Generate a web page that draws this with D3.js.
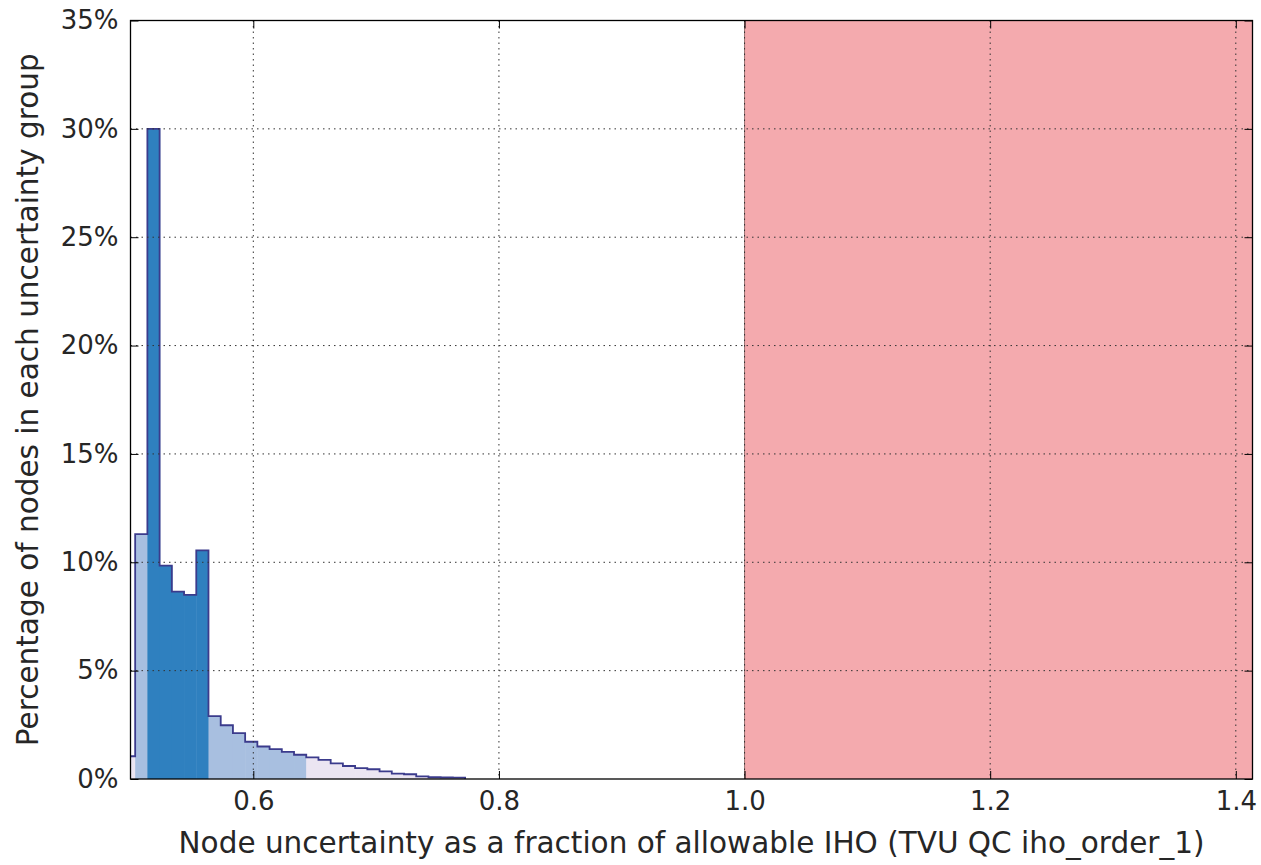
<!DOCTYPE html>
<html>
<head>
<meta charset="utf-8">
<script src="https://cdn.jsdelivr.net/npm/d3@7"></script>
<style>
  body { margin: 0; background: #fff; }
  text { font-family: "DejaVu Sans", sans-serif; fill: #262626; }
</style>
</head>
<body>
<svg id="chart" width="1261" height="865"></svg>
<script>
// histogram bins (fraction of allowable IHO), percentage per bin
const binStart = 0.49385
const binWidth = 0.00995
const binPercent = [1.05, 11.3, 30.0, 9.85, 8.65, 8.5, 10.55, 2.9, 2.48, 2.12, 1.72, 1.5, 1.38, 1.25,
  1.12, 1.0, 0.88, 0.72, 0.6, 0.5, 0.45, 0.35, 0.25, 0.22, 0.12, 0.08, 0.07, 0.06]
// 0 = outer tail, 1 = middle band, 2 = core band
const binGroup = [0, 1, 2, 2, 2, 2, 2, 1, 1, 1, 1, 1, 1, 1,
  1, 0, 0, 0, 0, 0, 0, 0, 0, 0, 0, 0, 0, 0]
const groupColors = ["#ebe5f2", "#a8bfe0", "#2f80bf"]

const failStart = 1.0
const xTicks = [0.6, 0.8, 1.0, 1.2, 1.4]
const yTicks = [0, 5, 10, 15, 20, 25, 30, 35]
const xDomain = [0.5, 1.4136]
const yDomain = [0, 35]

const xLabel = "Node uncertainty as a fraction of allowable IHO (TVU QC iho_order_1)"
const yLabel = "Percentage of nodes in each uncertainty group"

const mLeft = 130.5, mRight = 1252.5, mTop = 20.5, mBottom = 779
const tickLen = 8

const svg = d3.select("#chart")

const x = d3.scaleLinear().domain(xDomain).range([mLeft, mRight])
const y = d3.scaleLinear().domain(yDomain).range([mBottom, mTop])

svg.append("defs").append("clipPath").attr("id", "plotClip")
  .append("rect")
  .attr("x", mLeft).attr("y", mTop)
  .attr("width", mRight - mLeft).attr("height", mBottom - mTop)

const plot = svg.append("g").attr("clip-path", "url(#plotClip)")

// red failing region
plot.append("rect")
  .attr("x", x(failStart))
  .attr("y", mTop)
  .attr("width", x(xDomain[1]) - x(failStart))
  .attr("height", mBottom - mTop)
  .attr("fill", "#f4aaae")
plot.append("line")
  .attr("x1", x(failStart)).attr("x2", x(failStart))
  .attr("y1", mTop).attr("y2", mBottom)
  .attr("stroke", "#9a7070").attr("stroke-width", 1)

const bins = binPercent.map((p, i) => ({
  x0: binStart + i * binWidth,
  x1: binStart + (i + 1) * binWidth,
  p: p,
  g: binGroup[i]
}))

plot.selectAll("rect.bin")
  .data(bins)
  .join("rect")
  .attr("class", "bin")
  .attr("x", d => x(d.x0))
  .attr("width", d => x(d.x1) - x(d.x0) + 0.5)
  .attr("y", d => y(d.p))
  .attr("height", d => y(0) - y(d.p))
  .attr("fill", d => groupColors[d.g])

// step outline
const stepPts = [[bins[0].x0, 0]]
bins.forEach(d => stepPts.push([d.x0, d.p]))
stepPts.push([bins[bins.length - 1].x1, 0])

plot.append("path")
  .attr("d", d3.line().x(d => x(d[0])).y(d => y(d[1])).curve(d3.curveStepAfter)(stepPts))
  .attr("fill", "none")
  .attr("stroke", "#3b3b8c")
  .attr("stroke-width", 1.8)

// grid on top
const grid = svg.append("g")
grid.selectAll("line.gx")
  .data(xTicks)
  .join("line")
  .attr("x1", d => x(d)).attr("x2", d => x(d))
  .attr("y1", mTop).attr("y2", mBottom)
  .attr("stroke", "#333").attr("stroke-width", 1)
  .attr("stroke-dasharray", "1.5,4")
grid.selectAll("line.gy")
  .data(yTicks.filter(d => d > 0 && d < 35))
  .join("line")
  .attr("x1", mLeft).attr("x2", mRight)
  .attr("y1", d => y(d)).attr("y2", d => y(d))
  .attr("stroke", "#333").attr("stroke-width", 1)
  .attr("stroke-dasharray", "1.5,4")

// axes (ticks inside, labels via d3 axes)
const xAxis = d3.axisBottom(x).tickValues(xTicks).tickSize(-tickLen).tickPadding(13).tickFormat(d3.format(".1f"))
const xAxisTop = d3.axisTop(x).tickValues(xTicks).tickSize(-tickLen).tickFormat("")
const yAxis = d3.axisLeft(y).tickValues(yTicks).tickSize(-tickLen).tickPadding(12).tickFormat(d => d + "%")
const yAxisRight = d3.axisRight(y).tickValues(yTicks).tickSize(-tickLen).tickFormat("")

function styleAxis(g) {
  g.select(".domain").remove()
  g.selectAll(".tick line").attr("stroke", "#000").attr("stroke-width", 1)
  g.selectAll(".tick text").style("font-size", "26px").attr("fill", "#262626")
}

svg.append("g").attr("transform", `translate(0,${mBottom})`).call(xAxis).call(styleAxis)
svg.append("g").attr("transform", `translate(0,${mTop})`).call(xAxisTop).call(styleAxis)
svg.append("g").attr("transform", `translate(${mLeft},0)`).call(yAxis).call(styleAxis)
svg.append("g").attr("transform", `translate(${mRight},0)`).call(yAxisRight).call(styleAxis)

// spines
svg.append("rect")
  .attr("x", mLeft).attr("y", mTop)
  .attr("width", mRight - mLeft).attr("height", mBottom - mTop)
  .attr("fill", "none").attr("stroke", "#000").attr("stroke-width", 1.3)

svg.append("text")
  .attr("x", (mLeft + mRight) / 2)
  .attr("y", 853)
  .attr("text-anchor", "middle")
  .style("font-size", "29.5px")
  .text(xLabel)

svg.append("text")
  .attr("transform", `translate(38,${(mTop + mBottom) / 2}) rotate(-90)`)
  .attr("text-anchor", "middle")
  .style("font-size", "29.5px")
  .text(yLabel)
</script>
</body>
</html>
